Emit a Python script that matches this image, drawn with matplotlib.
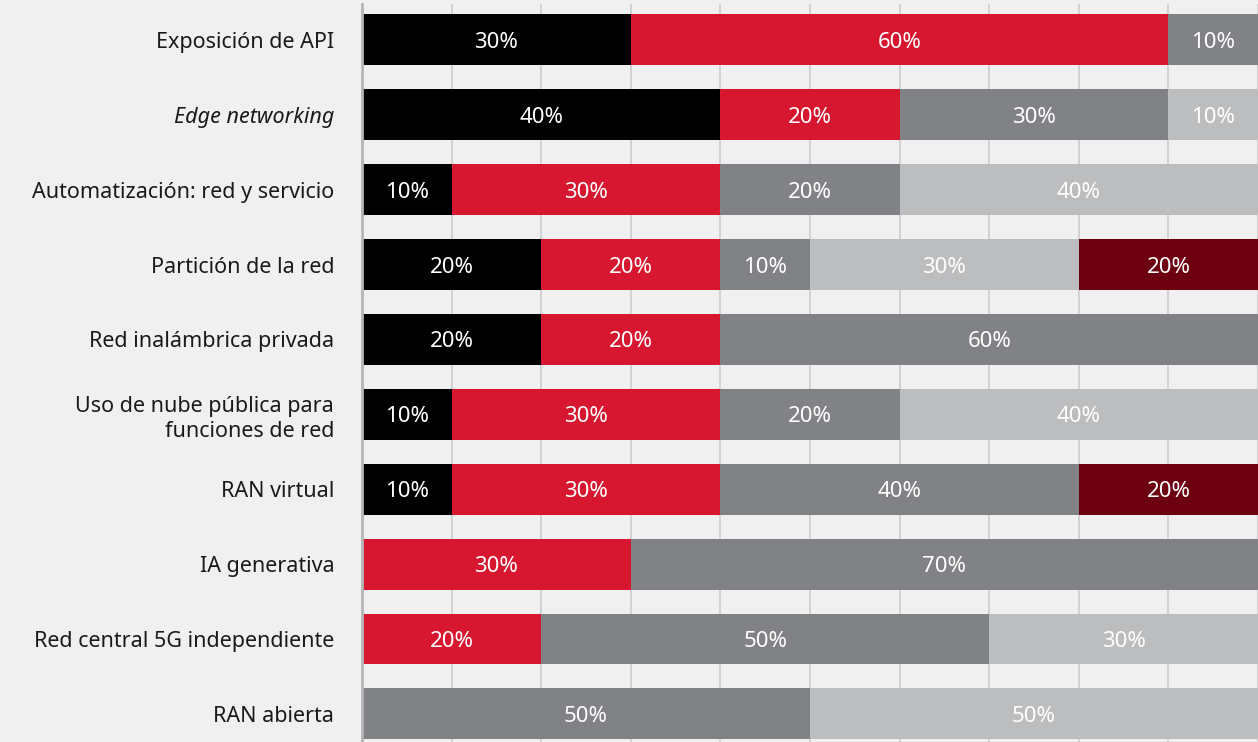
import numpy as np
import matplotlib.pyplot as plt

categories = [
    'Exposición de API',
    'Edge networking',
    'Automatización: red y servicio',
    'Partición de la red',
    'Red inalámbrica privada',
    'Uso de nube pública para\nfunciones de red',
    'RAN virtual',
    'IA generativa',
    'Red central 5G independiente',
    'RAN abierta',
]

# share of responses per stage (percent), one list per segment
s1 = [30, 40, 10, 20, 20, 10, 10, 0, 0, 0]
s2 = [60, 20, 30, 20, 20, 30, 30, 30, 20, 0]
s3 = [10, 30, 20, 10, 60, 20, 40, 70, 50, 50]
s4 = [0, 10, 40, 30, 0, 40, 0, 0, 30, 50]
s5 = [0, 0, 0, 20, 0, 0, 20, 0, 0, 0]

series = [s1, s2, s3, s4, s5]
colors = ['#000000', '#d7172f', '#818285', '#bcbdbf', '#6d0010']

plt.rcParams['font.family'] = ['Noto Sans', 'DejaVu Sans']
plt.rcParams['font.weight'] = 'normal'
bg = '#f0f0f0'

fig = plt.figure(figsize=(12.58, 7.42), dpi=100, facecolor=bg)
ax = fig.add_axes([362 / 1258, 0, 1 - 362 / 1258, 1 - 4 / 742], facecolor=bg)

y = np.arange(len(categories))
left = np.zeros(len(categories))
for vals, col in zip(series, colors):
    vals = np.array(vals, dtype=float)
    bars = ax.barh(y, vals, left=left, height=0.68, color=col, zorder=2)
    for b, v in zip(bars, vals):
        if v > 0:
            ax.text(b.get_x() + b.get_width() / 2, b.get_y() + b.get_height() / 2,
                    f'{int(v)}%', ha='center', va='center_baseline', color='white',
                    fontsize=16, zorder=3)
    left += vals

ax.set_xlim(0, 100)
ax.set_ylim(9.375, -0.48)
ax.set_xticks(np.arange(0, 101, 10))
ax.xaxis.grid(True, color='#cccccc', linewidth=1.2, zorder=0)
ax.tick_params(axis='x', length=0, labelbottom=False)
ax.tick_params(axis='y', length=0, pad=20)
ax.set_yticks(y)
ax.set_yticklabels(categories, fontsize=15.5, color='#1a1a1a', linespacing=1.25)
ax.get_yticklabels()[1].set_style('italic')

for side in ['top', 'right', 'bottom']:
    ax.spines[side].set_visible(False)
ax.spines['left'].set_color('#b5b5b5')
ax.spines['left'].set_linewidth(2)

fig.savefig('out.png', dpi=100, facecolor=bg)
